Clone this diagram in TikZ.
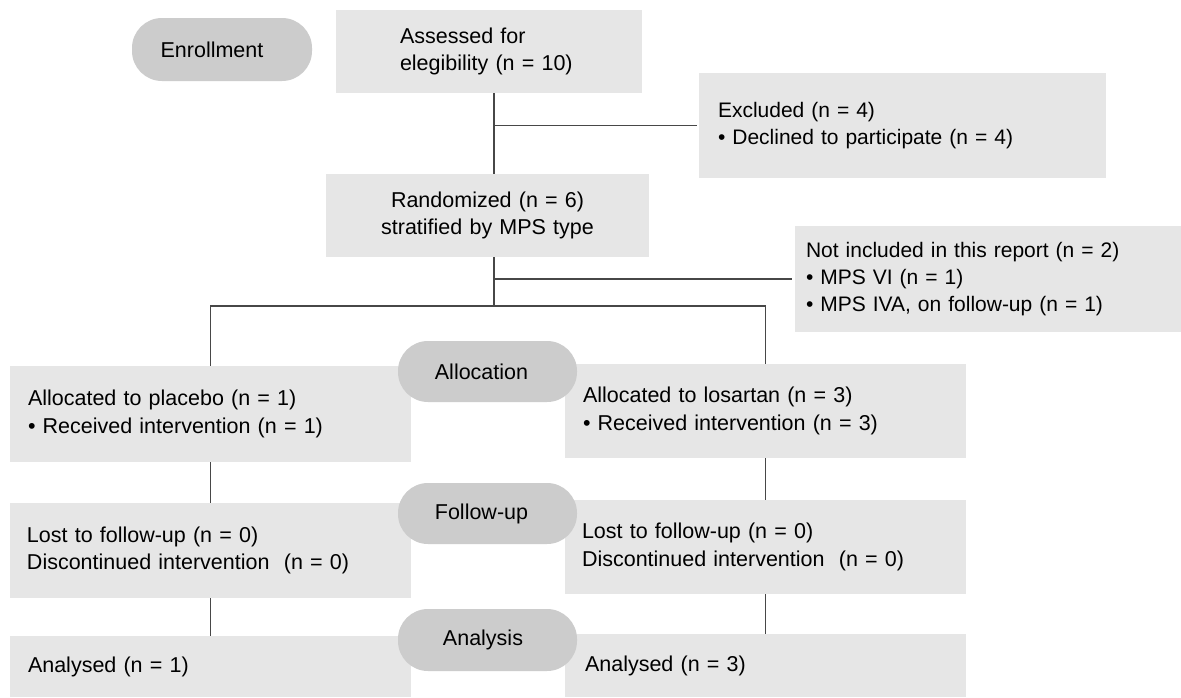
\documentclass[tikz,border=0pt]{standalone}
\usepackage{fontspec}
\setmainfont{Liberation Sans}
\usetikzlibrary{calc}
\definecolor{boxgray}{HTML}{E6E6E6}
\definecolor{pillgray}{HTML}{CCCCCC}
\definecolor{linegray}{HTML}{474747}
\newcommand{\diagfont}{\fontsize{21.5}{27.5}\selectfont}
\newcommand{\sidefont}{\fontsize{21}{27}\selectfont}
\begin{document}
\begin{tikzpicture}[x=1pt,y=-1pt,
  box/.style={fill=boxgray, draw=none, inner ysep=0pt, font=\diagfont, align=left},
  pill/.style={fill=pillgray, draw=none, rounded corners=30pt, inner sep=0pt, font=\diagfont, minimum width=179pt, minimum height=61pt},
  conn/.style={draw=linegray, line width=1.6pt}]
\useasboundingbox (0,0) rectangle (1181,697);
\fill[white] (0,0) rectangle (1181,697);

% boxes
\node[box, inner xsep=64pt, text width=178pt, minimum height=83pt] (assess) at (489,51.5)
  {Assessed for\\elegibility (n = 10)};
\node[box, font=\sidefont, inner xsep=19pt, text width=369pt, minimum height=105pt] (excl) at (902.5,125.5)
  {Excluded (n = 4)\\• Declined to participate (n = 4)};
\node[box, align=center, inner xsep=0pt, text width=323pt, minimum height=83pt] (random) at (487.5,215.5)
  {Randomized (n = 6)\\stratified by MPS type};
\node[box, font=\sidefont, inner xsep=11pt, text width=364pt, minimum height=106pt] (notinc) at (988,279)
  {Not included in this report (n = 2)\\• MPS VI (n = 1)\\• MPS IVA, on follow-up (n = 1)};
\node[box, inner xsep=18pt, text width=365pt, minimum height=96pt] (placebo) at (210.5,414)
  {Allocated to placebo (n = 1)\\• Received intervention (n = 1)};
\node[box, inner xsep=18pt, text width=365pt, minimum height=94pt] (losartan) at (765.5,411)
  {Allocated to losartan (n = 3)\\• Received intervention (n = 3)};
\node[box, inner xsep=17pt, text width=367pt, minimum height=95pt] (lostL) at (210.5,550.5)
  {Lost to follow-up (n = 0)\\Discontinued intervention\ \ (n = 0)};
\node[box, inner xsep=17pt, text width=367pt, minimum height=94pt] (lostR) at (765.5,547)
  {Lost to follow-up (n = 0)\\Discontinued intervention\ \ (n = 0)};
\node[box, inner xsep=18pt, text width=365pt, minimum height=61pt] (analL) at (210.5,666.5)
  {Analysed (n = 1)};
\node[box, inner xsep=20pt, text width=361pt, minimum height=63pt] (analR) at (765.5,665.5)
  {Analysed (n = 3)};

% pills
\node[pill, minimum width=180pt, minimum height=63pt] (enroll) at (222,49.5) {\hspace*{-20pt}Enrollment};
\node[pill] (alloc) at (487.5,371.5) {\hspace*{-12pt}Allocation};
\node[pill] (follow) at (487.5,513.5) {\hspace*{-12pt}Follow-up};
\node[pill, minimum height=62pt] (analysis) at (487.5,640) {\hspace*{-9pt}Analysis};

% connectors
\coordinate (sp) at (494,0);
\coordinate (cross) at (0,306);
\draw[conn] (assess.south -| sp) -- (random.north -| sp);
\draw[conn] (sp |- excl.west) -- ([xshift=-2pt]excl.west);
\draw[conn] (random.south -| sp) -- (sp |- cross);
\draw[conn] (sp |- notinc.west) -- ([xshift=-3pt]notinc.west);
\draw[conn] (placebo.north) -- (placebo.north |- cross) -- (losartan.north |- cross) -- (losartan.north);
\draw[conn] (placebo.south) -- (lostL.north);
\draw[conn] (lostL.south) -- (analL.north);
\draw[conn] (losartan.south) -- (lostR.north);
\draw[conn] (lostR.south) -- (analR.north);
\end{tikzpicture}
\end{document}
